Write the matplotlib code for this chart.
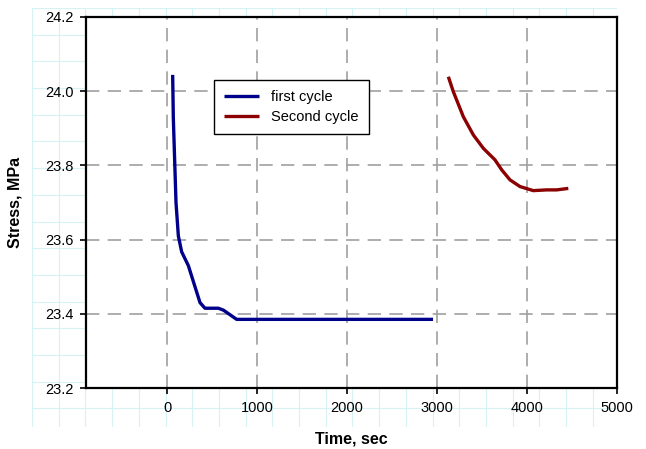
import numpy as np
import matplotlib
matplotlib.use("Agg")
import matplotlib.pyplot as plt

plt.rcParams['font.family'] = ['Liberation Sans', 'DejaVu Sans']

# first cycle (time in s, stress in MPa)
t1 = [63, 70, 100, 126, 163, 237, 311, 367, 422, 570, 626, 774, 1500, 2956]
s1 = [24.044, 23.93, 23.70, 23.61, 23.567, 23.53, 23.473, 23.43, 23.415, 23.415,
      23.41, 23.385, 23.385, 23.385]

# second cycle
t2 = [3126, 3181, 3293, 3404, 3515, 3644, 3719, 3811, 3922, 4070, 4219, 4330, 4459]
s2 = [24.039, 23.999, 23.931, 23.882, 23.846, 23.815, 23.788, 23.761, 23.743,
      23.732, 23.734, 23.734, 23.738]

x_ticks = [0, 1000, 2000, 3000, 4000, 5000]
y_ticks = [23.2, 23.4, 23.6, 23.8, 24.0, 24.2]

W, H = 646, 449
fig = plt.figure(figsize=(W / 100, H / 100), dpi=100)

# light cyan "graph paper" behind the chart
bg = fig.add_axes([32 / W, (H - 427) / H, (617 - 32) / W, (427 - 8) / H])
bg.set_xlim(0, 585)
bg.set_ylim(0, 419)
for xv in np.arange(0, 586, 26.7):
    bg.axvline(xv, color='#d6f2f5', lw=0.8)
for yv in np.arange(419, -1, -26.7):
    bg.axhline(yv, color='#d6f2f5', lw=0.8)
bg.axis('off')
bg.set_zorder(0)

ax = fig.add_axes([86 / W, (H - 388) / H, (617 - 86) / W, (388 - 17) / H])
ax.set_zorder(1)
ax.set_facecolor('white')

ax.plot(t1, s1, color='#00008b', lw=2.4, label='first cycle', solid_capstyle='butt')
ax.plot(t2, s2, color='#8b0000', lw=2.4, label='Second cycle', solid_capstyle='butt')

ax.set_xlim(-900, 5000)
ax.set_ylim(23.2, 24.2)
ax.set_xticks(x_ticks)
ax.set_yticks(y_ticks)
ax.set_yticklabels([f"{v:.1f}" for v in y_ticks])
ax.tick_params(direction='out', length=4, width=1.2, labelsize=10.5, pad=5)

ax.grid(True, color='#a0a0a0', ls=(0, (8, 5)), lw=1.2)
for sp in ax.spines.values():
    sp.set_linewidth(1.6)

ax.set_xlabel('Time, sec', fontsize=11.5, fontweight='bold', labelpad=12)
ax.set_ylabel('Stress, MPa', fontsize=11.5, fontweight='bold', labelpad=16)

leg = ax.legend(loc='upper left', bbox_to_anchor=(0.241, 0.830), fontsize=10.5,
                frameon=True, fancybox=False, framealpha=1, edgecolor='black',
                handlelength=2.4, borderpad=0.7, labelspacing=0.4,
                borderaxespad=0)
leg.get_frame().set_linewidth(1.0)

fig.savefig('out.png', dpi=100)
